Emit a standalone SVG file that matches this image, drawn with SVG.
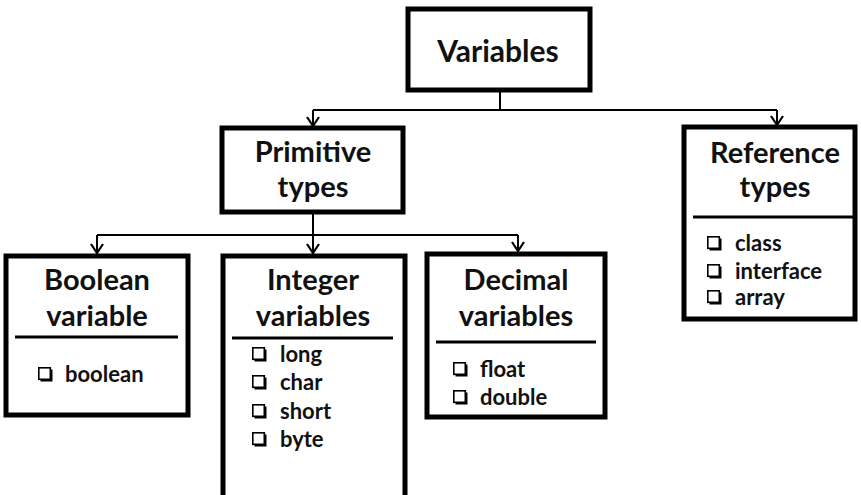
<svg xmlns="http://www.w3.org/2000/svg" width="861" height="495" viewBox="0 0 861 495">
<style>
.box{fill:#fff;stroke:#000;stroke-width:5}
.sep{stroke:#000;stroke-width:3}
.h{font-family:Lato,"Liberation Sans",sans-serif;font-weight:bold;font-size:29px;text-anchor:middle;fill:#111}
.t{font-family:Lato,"Liberation Sans",sans-serif;font-weight:bold;font-size:30px;text-anchor:middle;fill:#111}
.i{font-family:Lato,"Liberation Sans",sans-serif;font-weight:bold;font-size:22px;fill:#111}
.c{stroke:#000;stroke-width:2;fill:none}
.cb{fill:#fff;stroke:#000;stroke-width:1.6}
</style>
<defs>
<marker id="arr" markerWidth="16" markerHeight="16" refX="13" refY="8" orient="auto" markerUnits="userSpaceOnUse" viewBox="0 0 16 16">
<polyline points="4,2 13,8 4,14" fill="none" stroke="#000" stroke-width="2.2"/>
</marker>
<g id="chk"><rect x="2.5" y="2.5" width="12" height="12" fill="#000"/><rect class="cb" x="0.8" y="0.8" width="11.5" height="11.5"/></g>
</defs>
<rect width="861" height="495" fill="#fff"/>
<g id="connectors">
<path class="c" d="M500 92 V110"/>
<path class="c" d="M313 110 H777"/>
<path class="c" d="M313 110 V126" marker-end="url(#arr)"/>
<path class="c" d="M777 110 V125" marker-end="url(#arr)"/>
<path class="c" d="M313 214 V253" marker-end="url(#arr)"/>
<path class="c" d="M97 235 H518"/>
<path class="c" d="M97 235 V253" marker-end="url(#arr)"/>
<path class="c" d="M518 235 V251" marker-end="url(#arr)"/>
</g>
<g id="variables">
<rect class="box" x="408" y="9" width="182" height="81"/>
<text class="t" x="498" y="62">Variables</text>
</g>
<g id="primitive">
<rect class="box" x="222" y="128" width="181" height="84"/>
<text class="h" x="313" y="162">Primitive</text>
<text class="h" x="313" y="197">types</text>
</g>
<g id="reference">
<rect class="box" x="684" y="127" width="171" height="192"/>
<text class="h" x="775" y="163">Reference</text>
<text class="h" x="775" y="197">types</text>
<line class="sep" x1="693" y1="217" x2="855" y2="217"/>
<use href="#chk" x="707" y="236"/><text class="i" x="735" y="251">class</text>
<use href="#chk" x="707" y="264"/><text class="i" x="735" y="279">interface</text>
<use href="#chk" x="707" y="290"/><text class="i" x="735" y="305">array</text>
</g>
<g id="boolean">
<rect class="box" x="6" y="256" width="182" height="159"/>
<text class="h" x="97" y="290">Boolean</text>
<text class="h" x="97" y="326">variable</text>
<line class="sep" x1="15" y1="337" x2="178" y2="337"/>
<use href="#chk" x="38" y="367"/><text class="i" x="65" y="382">boolean</text>
</g>
<g id="integer">
<rect class="box" x="223" y="256" width="182" height="250"/>
<text class="h" x="313" y="290">Integer</text>
<text class="h" x="313" y="326">variables</text>
<line class="sep" x1="232" y1="338" x2="393" y2="338"/>
<use href="#chk" x="252" y="347"/><text class="i" x="280" y="362">long</text>
<use href="#chk" x="252" y="375"/><text class="i" x="280" y="390">char</text>
<use href="#chk" x="252" y="404"/><text class="i" x="280" y="419">short</text>
<use href="#chk" x="252" y="432"/><text class="i" x="280" y="447">byte</text>
</g>
<g id="decimal">
<rect class="box" x="427" y="254" width="178" height="163"/>
<text class="h" x="516" y="290">Decimal</text>
<text class="h" x="516" y="326">variables</text>
<line class="sep" x1="436" y1="342" x2="596" y2="342"/>
<use href="#chk" x="453" y="362"/><text class="i" x="480" y="377">float</text>
<use href="#chk" x="453" y="390"/><text class="i" x="480" y="405">double</text>
</g>
</svg>
